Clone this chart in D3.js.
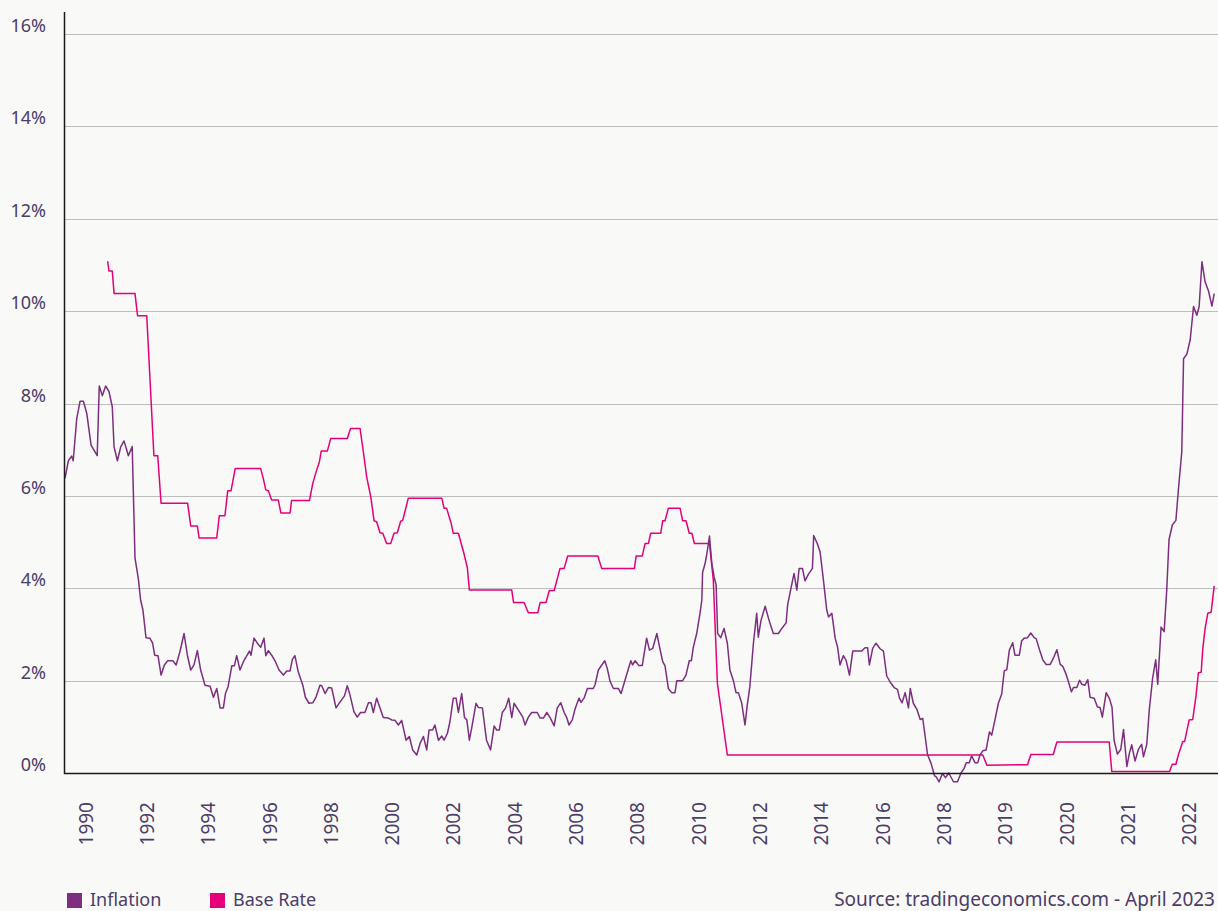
<!DOCTYPE html>
<html>
<head>
<meta charset="utf-8">
<script src="https://cdnjs.cloudflare.com/ajax/libs/d3/7.8.5/d3.min.js"></script>
<style>
  html, body { margin: 0; padding: 0; background: #f9f9f7; }
  svg { display: block; }
  text { font-family: "Noto Sans", "Lato", sans-serif; fill: #4b3c68; }
</style>
</head>
<body>
<svg id="chart" width="1218" height="911"></svg>
<script>
// ---- data (x = month index along the chart's period axis, y = percent) ----
const xTickLabels = ["1990","1992","1994","1996","1998","2000","2002","2004","2006","2008","2010","2012","2014","2016","2018","2019","2020","2021","2022"];
const xTickIndex  = [9,33,57,81,105,129,153,177,201,225,249,273,297,321,345,369,393,417,441];
const yTicks = [0,2,4,6,8,10,12,14,16];
const seriesNames = ["Inflation","Base Rate"];
const seriesColors = ["#7d2e80","#e5007a"];

const inflation = [
[0.4,6.38],[1.7,6.76],[3.0,6.86],[3.6,6.76],[5.0,7.68],[6.3,8.05],[7.6,8.05],[8.9,7.79],[10.6,7.10],[13.0,6.87],[13.8,8.38],[15.0,8.17],[16.3,8.38],[17.6,8.26],[18.9,7.93],[19.6,7.06],[20.9,6.76],[22.2,7.06],[23.5,7.19],[25.2,6.87],[26.7,7.07],[27.8,4.65],[29.1,4.21],[30.0,3.74],[30.9,3.53],[32.1,2.93],[33.6,2.92],[34.7,2.81],[35.5,2.55],[36.8,2.54],[38.0,2.12],[39.3,2.34],[40.6,2.43],[42.6,2.43],[43.9,2.34],[45.4,2.63],[47.0,3.02],[48.3,2.55],[49.6,2.23],[50.9,2.34],[52.2,2.65],[53.5,2.23],[55.2,1.90],[57.2,1.88],[58.5,1.64],[59.8,1.83],[61.1,1.41],[62.4,1.41],[63.2,1.72],[64.2,1.86],[65.7,2.32],[66.7,2.32],[67.6,2.54],[68.9,2.23],[70.5,2.44],[72.6,2.64],[73.2,2.55],[74.4,2.92],[75.7,2.81],[77.0,2.72],[78.3,2.92],[79.0,2.54],[80.0,2.65],[81.3,2.55],[82.6,2.43],[84.2,2.23],[85.9,2.12],[87.2,2.21],[88.5,2.21],[89.4,2.46],[90.4,2.54],[91.7,2.19],[93.5,1.90],[94.5,1.64],[95.9,1.51],[97.4,1.52],[98.7,1.65],[100.2,1.90],[100.9,1.89],[102.2,1.72],[103.5,1.85],[104.8,1.84],[106.5,1.41],[108.1,1.54],[109.8,1.67],[110.9,1.89],[112.0,1.68],[113.5,1.33],[114.8,1.21],[116.1,1.31],[117.8,1.31],[119.2,1.52],[120.2,1.52],[121.1,1.31],[122.4,1.62],[125.0,1.20],[127.0,1.19],[128.3,1.15],[129.6,1.14],[130.9,1.04],[132.2,1.14],[133.9,0.71],[135.2,0.79],[136.5,0.50],[138.1,0.39],[139.4,0.64],[140.7,0.79],[142.0,0.50],[142.9,0.93],[144.3,0.93],[145.2,1.04],[146.6,0.71],[147.9,0.80],[148.8,0.71],[150.1,0.86],[151.1,1.11],[152.4,1.62],[153.5,1.62],[154.4,1.31],[155.7,1.72],[156.8,1.20],[157.7,1.15],[158.7,0.71],[159.6,0.97],[161.3,1.51],[162.2,1.42],[163.8,1.41],[165.4,0.71],[167.0,0.50],[168.4,1.02],[169.4,0.93],[170.4,0.93],[171.6,1.31],[172.9,1.41],[174.1,1.62],[175.3,1.20],[176.2,1.51],[177.9,1.36],[179.6,1.21],[180.5,1.04],[181.8,1.21],[183.1,1.31],[185.3,1.31],[186.4,1.19],[187.7,1.19],[189.0,1.31],[190.3,1.20],[191.9,1.02],[193.1,1.41],[194.5,1.52],[195.8,1.31],[196.8,1.20],[197.7,1.04],[199.0,1.15],[200.1,1.39],[201.6,1.62],[202.4,1.53],[203.6,1.62],[204.9,1.83],[207.2,1.83],[207.9,1.91],[209.2,2.23],[211.7,2.43],[212.7,2.26],[213.8,1.98],[215.1,1.83],[217.0,1.83],[218.1,1.72],[220.0,2.08],[221.9,2.43],[222.6,2.34],[223.6,2.43],[225.0,2.33],[226.4,2.33],[228.1,2.92],[229.2,2.66],[230.5,2.70],[232.1,3.02],[233.1,2.74],[234.4,2.41],[235.3,2.32],[236.6,1.83],[237.9,1.74],[239.2,1.74],[239.9,2.00],[242.2,2.00],[243.5,2.12],[244.8,2.43],[245.6,2.43],[246.4,2.73],[247.7,3.02],[249.0,3.46],[249.7,3.74],[250.0,4.34],[251.0,4.54],[251.6,4.72],[252.7,5.13],[253.6,4.54],[254.5,4.25],[255.3,4.07],[255.9,3.02],[257.1,2.93],[258.4,3.13],[259.7,2.81],[260.7,2.23],[262.0,2.01],[263.1,1.74],[264.0,1.74],[265.3,1.52],[266.6,1.04],[267.5,1.47],[268.5,1.87],[269.9,2.81],[271.2,3.46],[271.8,2.94],[272.9,3.31],[274.5,3.61],[276.0,3.31],[277.7,3.02],[279.7,3.02],[281.0,3.13],[282.7,3.25],[283.3,3.64],[284.2,3.89],[285.8,4.32],[286.9,3.96],[287.8,4.43],[289.1,4.43],[290.1,4.16],[291.4,4.30],[293.0,4.43],[293.5,5.14],[294.9,4.97],[296.0,4.79],[297.3,4.18],[298.6,3.53],[299.3,3.38],[300.6,3.46],[301.9,2.92],[302.8,2.74],[303.8,2.34],[305.1,2.54],[306.2,2.44],[307.5,2.12],[308.8,2.64],[310.4,2.64],[312.3,2.64],[313.6,2.71],[314.6,2.71],[315.3,2.34],[316.6,2.70],[317.9,2.81],[319.5,2.69],[320.8,2.64],[322.1,2.10],[323.4,1.97],[325.0,1.85],[326.3,1.81],[327.1,1.62],[328.1,1.52],[329.3,1.74],[330.6,1.41],[331.3,1.83],[332.5,1.51],[333.9,1.38],[335.2,1.16],[336.2,1.18],[338.1,0.39],[339.4,0.22],[340.8,-0.06],[341.4,-0.08],[342.6,-0.19],[343.9,-0.01],[345.1,-0.10],[346.4,0.00],[348.2,-0.19],[349.8,-0.19],[351.1,-0.01],[352.4,0.10],[353.2,0.22],[354.4,0.22],[355.3,0.37],[356.7,0.22],[357.7,0.22],[358.6,0.39],[359.7,0.48],[361.0,0.50],[362.3,0.89],[363.2,0.82],[364.5,1.16],[365.8,1.51],[367.1,1.71],[368.1,2.21],[369.1,2.24],[370.1,2.66],[371.4,2.82],[372.3,2.55],[374.0,2.55],[374.9,2.86],[375.9,2.92],[377.2,2.93],[378.5,3.03],[379.8,2.93],[380.6,2.91],[381.9,2.67],[383.2,2.45],[384.5,2.35],[386.1,2.35],[387.3,2.48],[388.7,2.67],[390.0,2.35],[391.0,2.31],[392.3,2.14],[393.2,1.98],[394.4,1.76],[395.2,1.85],[396.5,1.85],[397.6,2.01],[398.5,1.92],[399.7,1.90],[400.8,2.02],[401.7,1.64],[403.3,1.62],[404.6,1.43],[405.6,1.42],[406.5,1.21],[408.0,1.74],[409.3,1.61],[410.3,1.42],[411.1,0.71],[412.4,0.41],[413.7,0.51],[414.8,0.94],[416.1,0.14],[417.1,0.43],[418.0,0.61],[419.3,0.26],[420.6,0.51],[421.9,0.62],[422.6,0.35],[423.9,0.62],[424.9,1.38],[426.2,2.06],[427.4,2.45],[428.2,1.92],[429.5,3.16],[430.7,3.06],[431.7,3.95],[432.6,5.05],[433.9,5.37],[435.3,5.47],[436.3,6.15],[437.6,6.95],[438.3,8.97],[439.6,9.07],[440.9,9.38],[442.2,10.10],[443.5,9.91],[444.4,10.10],[445.5,11.07],[446.7,10.64],[448.1,10.43],[449.4,10.11],[450.3,10.38]
];

const baseRate = [
[17.1,11.08],[17.6,10.87],[18.9,10.87],[19.6,10.38],[27.8,10.38],[28.8,9.90],[32.4,9.90],[35.2,6.87],[36.7,6.87],[38.0,5.84],[48.4,5.84],[49.6,5.35],[52.2,5.35],[52.9,5.09],[59.8,5.09],[60.8,5.57],[63.0,5.57],[64.1,6.11],[65.4,6.11],[67.0,6.59],[77.0,6.59],[78.0,6.38],[79.0,6.13],[80.0,6.11],[81.3,5.91],[83.9,5.91],[84.9,5.63],[88.5,5.63],[89.1,5.90],[96.1,5.90],[97.4,6.27],[98.7,6.52],[100.0,6.74],[100.7,6.97],[103.1,6.97],[104.4,7.24],[110.9,7.24],[112.2,7.46],[115.9,7.46],[117.2,6.95],[118.5,6.41],[120.1,5.98],[121.4,5.46],[122.4,5.44],[123.7,5.20],[124.8,5.19],[126.3,4.97],[127.9,4.97],[129.2,5.19],[130.5,5.20],[131.8,5.45],[132.6,5.47],[134.8,5.95],[147.9,5.95],[148.8,5.73],[149.8,5.73],[151.6,5.40],[152.4,5.19],[154.4,5.19],[156.4,4.79],[157.9,4.45],[158.7,3.96],[175.3,3.96],[176.0,3.69],[180.1,3.69],[181.8,3.47],[185.5,3.47],[186.4,3.69],[188.7,3.69],[190.0,3.95],[191.9,3.95],[194.2,4.43],[195.8,4.43],[197.2,4.70],[209.0,4.70],[210.5,4.43],[223.3,4.43],[224.0,4.70],[226.4,4.70],[227.5,4.97],[228.8,4.97],[229.7,5.19],[233.6,5.19],[234.4,5.46],[235.3,5.46],[236.6,5.73],[241.2,5.73],[242.2,5.46],[243.5,5.46],[244.8,5.19],[245.8,5.19],[246.8,4.97],[252.7,4.97],[254.2,4.18],[255.8,1.94],[259.7,0.39],[359.7,0.39],[361.3,0.17],[377.2,0.18],[378.5,0.40],[387.3,0.40],[388.7,0.67],[409.2,0.67],[410.2,0.03],[432.8,0.03],[433.9,0.19],[435.3,0.19],[436.3,0.40],[438.0,0.68],[438.7,0.68],[440.5,1.15],[441.9,1.16],[443.2,1.68],[444.1,2.17],[445.2,2.18],[445.8,2.67],[446.7,3.12],[447.8,3.46],[449.1,3.48],[450.3,4.05]
];

const sourceText = "Source: tradingeconomics.com - April 2023";

// ---- drawing ----
const svg = d3.select("#chart");
const W = 1218;
const x = d3.scaleLinear().domain([0, 451]).range([64, 1216]);
const y = d3.scaleLinear().domain([0, 16]).range([773, 34]);

svg.append("rect").attr("width", W).attr("height", 911).attr("fill", "#f9f9f7");

// gridlines
svg.append("g").selectAll("line").data(yTicks.filter(d => d > 0)).join("line")
  .attr("x1", 64).attr("x2", W)
  .attr("y1", d => Math.round(y(d)) + 0.5).attr("y2", d => Math.round(y(d)) + 0.5)
  .attr("stroke", "#bdbdbd").attr("stroke-width", 1);

// y labels
svg.append("g").selectAll("text").data(yTicks).join("text")
  .attr("x", 46).attr("y", d => y(d) - 2)
  .attr("text-anchor", "end")
  .attr("font-size", 18)
  .text(d => d + "%");

// lines
const line = d3.line().x(d => x(d[0])).y(d => y(d[1]));
svg.append("path").datum(baseRate)
  .attr("d", line).attr("fill", "none")
  .attr("stroke", seriesColors[1]).attr("stroke-width", 1.5).attr("stroke-linejoin", "round");
svg.append("path").datum(inflation)
  .attr("d", line).attr("fill", "none")
  .attr("stroke", seriesColors[0]).attr("stroke-width", 1.5).attr("stroke-linejoin", "round");

// axes lines
svg.append("line").attr("x1", 64.5).attr("x2", 64.5).attr("y1", 12).attr("y2", 774)
  .attr("stroke", "#1a1a1a").attr("stroke-width", 1.5);
svg.append("line").attr("x1", 64).attr("x2", W).attr("y1", 773.5).attr("y2", 773.5)
  .attr("stroke", "#1a1a1a").attr("stroke-width", 1.5);

// x labels
svg.append("g").selectAll("text").data(xTickIndex).join("text")
  .attr("transform", d => `translate(${x(d) - 1},802) rotate(-90)`)
  .attr("text-anchor", "end")
  .attr("dy", "0.35em")
  .attr("font-size", 19)
  .text((d, i) => xTickLabels[i]);

// legend
const legX = [67, 210];
seriesNames.forEach((name, i) => {
  svg.append("rect").attr("x", legX[i]).attr("y", 893).attr("width", 15).attr("height", 15)
    .attr("fill", seriesColors[i]);
  svg.append("text").attr("x", legX[i] + 23).attr("y", 906)
    .attr("font-size", 18).text(name);
});

svg.append("text").attr("x", 1215).attr("y", 906)
  .attr("text-anchor", "end")
  .attr("font-size", 19).text(sourceText);
</script>
</body>
</html>
